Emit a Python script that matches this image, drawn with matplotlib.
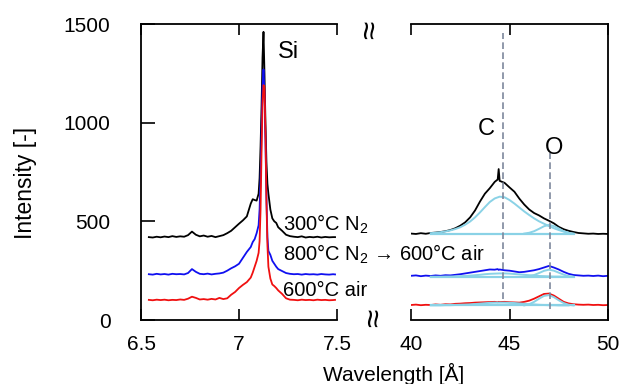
import matplotlib.pyplot as plt

plt.rcParams['font.family'] = ['Liberation Sans', 'DejaVu Sans']
plt.rcParams['mathtext.fontset'] = 'custom'
plt.rcParams['mathtext.rm'] = 'Liberation Sans'
plt.rcParams['mathtext.it'] = 'Liberation Sans:italic'

# Si region (6.5 - 7.5 A)
wl_si = [6.54, 6.56, 6.58, 6.60, 6.62, 6.64, 6.66, 6.68, 6.70, 6.72,
         6.74, 6.76, 6.78, 6.80, 6.82, 6.84, 6.86, 6.88, 6.90, 6.92,
         6.94, 6.96, 6.98, 7.00, 7.02, 7.04, 7.06, 7.07, 7.08, 7.09,
         7.10, 7.105, 7.11, 7.115, 7.12, 7.125, 7.13, 7.135, 7.14, 7.145,
         7.15, 7.16, 7.17, 7.18, 7.19, 7.20, 7.22, 7.24, 7.26, 7.28,
         7.30, 7.32, 7.34, 7.36, 7.38, 7.40, 7.42, 7.44, 7.46, 7.48, 7.49]
si_300n2 = [420, 418, 422, 419, 423, 420, 425, 421, 424, 422,
            430, 448, 432, 424, 428, 422, 426, 420, 425, 430,
            440, 452, 470, 488, 505, 525, 590, 612, 608, 605,
            640, 720, 880, 1080, 1330, 1460, 1250, 1000, 800, 690,
            640, 560, 515, 500, 492, 470, 452, 432, 425, 422,
            420, 424, 418, 421, 419, 422, 418, 421, 419, 420, 420]
si_800n2_600air = [232, 230, 234, 231, 233, 230, 234, 232, 233, 231,
                   238, 258, 244, 234, 232, 235, 231, 234, 236, 240,
                   250, 262, 272, 285, 315, 345, 370, 395, 410, 440,
                   480, 560, 720, 950, 1180, 1270, 1150, 900, 620, 420,
                   350, 330, 300, 285, 270, 258, 248, 238, 234, 232,
                   233, 230, 233, 231, 232, 230, 233, 231, 230, 232, 231]
si_600air = [102, 100, 103, 101, 103, 100, 102, 101, 104, 102,
             108, 118, 112, 104, 106, 103, 107, 104, 112, 106,
             110, 128, 142, 162, 178, 192, 215, 240, 270, 300,
             340, 400, 560, 850, 1100, 1190, 1180, 950, 600, 380,
             270, 210, 180, 172, 162, 150, 132, 110, 103, 102,
             100, 103, 101, 102, 100, 103, 101, 102, 100, 101, 102]

# C / O region (40 - 50 A)
wl_co = [40.0, 40.25, 40.5, 40.75, 41.0, 41.25, 41.5, 41.75, 42.0, 42.25,
         42.5, 42.75, 43.0, 43.25, 43.5, 43.75, 44.0, 44.25, 44.4, 44.45,
         44.5, 44.75, 45.0, 45.25, 45.5, 45.75, 46.0, 46.25, 46.5, 46.75,
         47.0, 47.25, 47.5, 47.75, 48.0, 48.25, 48.5, 48.75, 49.0, 49.25,
         49.5, 49.75, 50.0]
co_300n2 = [438, 436, 440, 437, 441, 443, 446, 450, 456, 465,
            478, 495, 520, 555, 600, 640, 668, 700, 712, 765,
            705, 695, 672, 650, 615, 585, 560, 542, 530, 515,
            503, 490, 472, 460, 452, 446, 441, 439, 437, 438,
            436, 437, 436]
co_800n2_600air = [224, 226, 222, 225, 223, 226, 224, 227, 226, 229,
                   232, 236, 240, 244, 248, 252, 256, 255, 258, 254,
                   256, 252, 250, 246, 242, 244, 248, 252, 258, 266,
                   274, 266, 256, 244, 234, 228, 226, 224, 225, 223,
                   225, 222, 224]
co_600air = [76, 78, 75, 77, 76, 79, 77, 80, 79, 82,
             83, 85, 86, 88, 89, 90, 91, 92, 90, 92,
             91, 92, 90, 89, 88, 92, 98, 108, 120, 132,
             134, 124, 108, 92, 84, 80, 78, 77, 78, 76,
             77, 75, 76]

# fitted components
fit_c_x = [41.0, 41.25, 41.5, 41.75, 42.0, 42.25, 42.5, 42.75, 43.0, 43.25,
           43.5, 43.75, 44.0, 44.25, 44.5, 44.75, 45.0, 45.25, 45.5, 45.75,
           46.0, 46.25, 46.5, 46.75, 47.0, 47.25, 47.5, 47.75, 48.0]
fit_c_300n2 = [440, 442, 445, 449, 454, 461, 470, 483, 499, 520,
               545, 572, 598, 616, 625, 622, 608, 590, 570, 550,
               532, 515, 500, 488, 476, 465, 456, 448, 442]
fit_c_800n2_600air = [219, 219, 219, 220, 220, 221, 222, 223, 225, 227,
                      229, 232, 234, 235, 236, 236, 235, 233, 231, 229,
                      227, 225, 223, 222, 221, 220, 220, 219, 219]
fit_c_600air = [74, 74, 74, 75, 75, 76, 77, 78, 79, 81,
                83, 85, 87, 88, 88, 88, 87, 86, 84, 82,
                80, 79, 77, 76, 75, 75, 74, 74, 74]
fit_o_x = [45.75, 46.0, 46.25, 46.5, 46.75, 47.0, 47.25, 47.5, 47.75, 48.0, 48.25]
fit_o_300n2 = [438, 442, 450, 462, 475, 482, 476, 464, 450, 441, 438]
fit_o_800n2_600air = [219, 222, 228, 238, 249, 255, 250, 240, 230, 222, 219]
fit_o_600air = [74, 80, 92, 108, 122, 126, 116, 100, 86, 77, 74]
fit_base_x = [41.0, 48.25]
fit_base = [437, 219, 74]

c_line = 44.65
o_line = 47.05

colors = ['black', '#1010f0', '#f01010']
fit_color = '#8ad2e6'
fs = 15

fig = plt.figure(figsize=(6.23, 3.84), dpi=100)
ax1 = fig.add_axes([141 / 623, 64 / 384, 196 / 623, 296 / 384])
ax2 = fig.add_axes([411 / 623, 64 / 384, 197 / 623, 296 / 384])
# left panel on top so its curve labels can run over the gap
ax1.set_zorder(3)
ax1.patch.set_visible(False)

for y, c in zip([si_300n2, si_800n2_600air, si_600air], colors):
    ax1.plot(wl_si, y, color=c, lw=1.3)

for y, c in zip([co_300n2, co_800n2_600air, co_600air], colors):
    ax2.plot(wl_co, y, color=c, lw=1.3)
for fc, fo, b in zip([fit_c_300n2, fit_c_800n2_600air, fit_c_600air],
                     [fit_o_300n2, fit_o_800n2_600air, fit_o_600air], fit_base):
    ax2.plot(fit_c_x, fc, color=fit_color, lw=1.4)
    ax2.plot(fit_o_x, fo, color=fit_color, lw=1.4)
    ax2.plot(fit_base_x, [b, b], color=fit_color, lw=1.6)

ax2.plot([c_line, c_line], [107, 1455], color='#7d879c', lw=1.2, ls=(0, (4, 2)))
ax2.plot([o_line, o_line], [56, 845], color='#7d879c', lw=1.2, ls=(0, (4, 2)))

for ax in (ax1, ax2):
    ax.set_ylim(0, 1500)
    ax.tick_params(direction='in', top=True, bottom=True, labelsize=fs,
                   width=1.2, length=8, pad=11)
    for s in ax.spines.values():
        s.set_linewidth(1.3)

ax1.set_xlim(6.5, 7.5)
ax1.set_xticks([6.5, 7, 7.5])
ax1.set_xticklabels(['6.5', '7', '7.5'])
ax1.set_yticks([0, 500, 1000, 1500])
ax1.tick_params(axis='y', length=10, pad=22)
ax1.spines['right'].set_visible(False)
ax1.set_ylabel('Intensity [-]', fontsize=16.5)
ax1.yaxis.set_label_coords(-0.53, 0.463)

ax2.set_xlim(40, 50)
ax2.set_xticks([40, 45, 50])
ax2.set_yticks([])
ax2.spines['left'].set_visible(False)

ax1.text(7.199, 1327, 'Si', fontsize=17)
ax2.text(43.40, 936, 'C', fontsize=17)
ax2.text(46.8, 839, 'O', fontsize=17)

ax1.text(7.224, 452, '300°C N$_2$', fontsize=14.5, clip_on=False)
ax1.text(7.224, 300, '800°C N$_2$ → 600°C air', fontsize=14.5, clip_on=False)
ax1.text(7.224, 122, '600°C air', fontsize=14.5, clip_on=False)

# axis break marks
fig.text(371 / 623, 1 - 30 / 384, '≈', rotation=90, fontsize=24, ha='center', va='center')
fig.text(375 / 623, 1 - 318 / 384, '≈', rotation=90, fontsize=24, ha='center', va='center')
fig.text(394 / 623, 1 - 374 / 384, 'Wavelength [Å]', fontsize=fs, ha='center', va='center')

fig.savefig('out.png', dpi=100)
